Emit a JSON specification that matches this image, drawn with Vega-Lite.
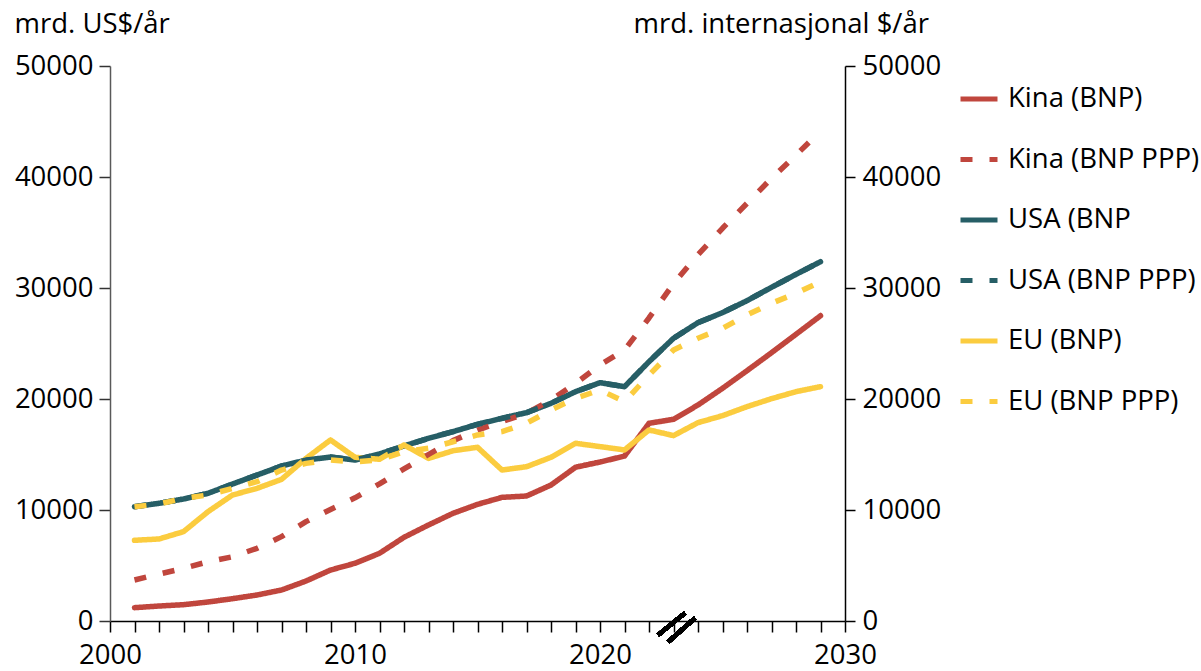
{
  "$schema": "https://vega.github.io/schema/vega-lite/v6.json",
  "width": 735,
  "height": 555,
  "autosize": {"type": "none"},
  "padding": {"left": 110, "top": 66, "right": 356, "bottom": 50},
  "background": "white",
  "config": {
    "font": "Open Sans",
    "view": {"stroke": null},
    "axis": {"labelFontSize": 27.5, "labelColor": "black", "titleColor": "black", "titleFontSize": 27.5, "titleFontWeight": "normal", "grid": false, "domainWidth": 1.5, "tickWidth": 1.5}
  },
  "data": {
    "values": [
      {"year": 2001, "Kina (BNP)": 1200, "Kina (BNP PPP)": 3690, "USA (BNP": 10300, "USA (BNP PPP)": 10300, "EU (BNP)": 7270, "EU (BNP PPP)": 10300},
      {"year": 2002, "Kina (BNP)": 1350, "Kina (BNP PPP)": 4230, "USA (BNP": 10600, "USA (BNP PPP)": 10600, "EU (BNP)": 7390, "EU (BNP PPP)": 10540},
      {"year": 2003, "Kina (BNP)": 1470, "Kina (BNP PPP)": 4740, "USA (BNP": 10990, "USA (BNP PPP)": 10990, "EU (BNP)": 8050, "EU (BNP PPP)": 11050},
      {"year": 2004, "Kina (BNP)": 1710, "Kina (BNP PPP)": 5340, "USA (BNP": 11500, "USA (BNP PPP)": 11500, "EU (BNP)": 9850, "EU (BNP PPP)": 11350},
      {"year": 2005, "Kina (BNP)": 2010, "Kina (BNP PPP)": 5790, "USA (BNP": 12340, "USA (BNP PPP)": 12340, "EU (BNP)": 11350, "EU (BNP PPP)": 11950},
      {"year": 2006, "Kina (BNP)": 2340, "Kina (BNP PPP)": 6550, "USA (BNP": 13150, "USA (BNP PPP)": 13150, "EU (BNP)": 11950, "EU (BNP PPP)": 12550},
      {"year": 2007, "Kina (BNP)": 2790, "Kina (BNP PPP)": 7600, "USA (BNP": 13960, "USA (BNP PPP)": 13960, "EU (BNP)": 12760, "EU (BNP PPP)": 13600},
      {"year": 2008, "Kina (BNP)": 3600, "Kina (BNP PPP)": 8950, "USA (BNP": 14500, "USA (BNP PPP)": 14500, "EU (BNP)": 14650, "EU (BNP PPP)": 14200},
      {"year": 2009, "Kina (BNP)": 4590, "Kina (BNP PPP)": 10050, "USA (BNP": 14770, "USA (BNP PPP)": 14770, "EU (BNP)": 16310, "EU (BNP PPP)": 14500},
      {"year": 2010, "Kina (BNP)": 5200, "Kina (BNP PPP)": 11100, "USA (BNP": 14500, "USA (BNP PPP)": 14500, "EU (BNP)": 14750, "EU (BNP PPP)": 14350},
      {"year": 2011, "Kina (BNP)": 6100, "Kina (BNP PPP)": 12350, "USA (BNP": 15050, "USA (BNP PPP)": 15050, "EU (BNP)": 14570, "EU (BNP PPP)": 14500},
      {"year": 2012, "Kina (BNP)": 7540, "Kina (BNP PPP)": 13700, "USA (BNP": 15770, "USA (BNP PPP)": 15770, "EU (BNP)": 15860, "EU (BNP PPP)": 15260},
      {"year": 2013, "Kina (BNP)": 8650, "Kina (BNP PPP)": 15000, "USA (BNP": 16460, "USA (BNP PPP)": 16460, "EU (BNP)": 14650, "EU (BNP PPP)": 15560},
      {"year": 2014, "Kina (BNP)": 9700, "Kina (BNP PPP)": 16250, "USA (BNP": 17060, "USA (BNP PPP)": 17060, "EU (BNP)": 15340, "EU (BNP PPP)": 16150},
      {"year": 2015, "Kina (BNP)": 10510, "Kina (BNP PPP)": 17200, "USA (BNP": 17720, "USA (BNP PPP)": 17720, "EU (BNP)": 15650, "EU (BNP PPP)": 16760},
      {"year": 2016, "Kina (BNP)": 11140, "Kina (BNP PPP)": 17960, "USA (BNP": 18260, "USA (BNP PPP)": 18260, "EU (BNP)": 13600, "EU (BNP PPP)": 17060},
      {"year": 2017, "Kina (BNP)": 11260, "Kina (BNP PPP)": 18710, "USA (BNP": 18770, "USA (BNP PPP)": 18770, "EU (BNP)": 13900, "EU (BNP PPP)": 17810},
      {"year": 2018, "Kina (BNP)": 12250, "Kina (BNP PPP)": 19910, "USA (BNP": 19610, "USA (BNP PPP)": 19610, "EU (BNP)": 14750, "EU (BNP PPP)": 19010},
      {"year": 2019, "Kina (BNP)": 13850, "Kina (BNP PPP)": 21400, "USA (BNP": 20660, "USA (BNP PPP)": 20660, "EU (BNP)": 16010, "EU (BNP PPP)": 20060},
      {"year": 2020, "Kina (BNP)": 14320, "Kina (BNP PPP)": 23060, "USA (BNP": 21470, "USA (BNP PPP)": 21470, "EU (BNP)": 15710, "EU (BNP PPP)": 20810},
      {"year": 2021, "Kina (BNP)": 14860, "Kina (BNP PPP)": 24410, "USA (BNP": 21110, "USA (BNP PPP)": 21110, "EU (BNP)": 15410, "EU (BNP PPP)": 19760},
      {"year": 2022, "Kina (BNP)": 17810, "Kina (BNP PPP)": 27300, "USA (BNP": 23360, "USA (BNP PPP)": 23360, "EU (BNP)": 17210, "EU (BNP PPP)": 22160},
      {"year": 2023, "Kina (BNP)": 18170, "Kina (BNP PPP)": 30400, "USA (BNP": 25470, "USA (BNP PPP)": 25470, "EU (BNP)": 16700, "EU (BNP PPP)": 24410},
      {"year": 2024, "Kina (BNP)": 19460, "Kina (BNP PPP)": 33000, "USA (BNP": 26880, "USA (BNP PPP)": 26880, "EU (BNP)": 17870, "EU (BNP PPP)": 25470},
      {"year": 2025, "Kina (BNP)": 20960, "Kina (BNP PPP)": 35380, "USA (BNP": 27780, "USA (BNP PPP)": 27780, "EU (BNP)": 18500, "EU (BNP PPP)": 26370},
      {"year": 2026, "Kina (BNP)": 22550, "Kina (BNP PPP)": 37630, "USA (BNP": 28860, "USA (BNP PPP)": 28860, "EU (BNP)": 19310, "EU (BNP PPP)": 27570},
      {"year": 2027, "Kina (BNP)": 24170, "Kina (BNP PPP)": 39880, "USA (BNP": 30060, "USA (BNP PPP)": 30060, "EU (BNP)": 20030, "EU (BNP PPP)": 28620},
      {"year": 2028, "Kina (BNP)": 25830, "Kina (BNP PPP)": 41980, "USA (BNP": 31230, "USA (BNP PPP)": 31230, "EU (BNP)": 20660, "EU (BNP PPP)": 29520},
      {"year": 2029, "Kina (BNP)": 27500, "Kina (BNP PPP)": 44140, "USA (BNP": 32370, "USA (BNP PPP)": 32370, "EU (BNP)": 21110, "EU (BNP PPP)": 30570}
    ]
  },
  "transform": [
    {"fold": ["Kina (BNP)", "USA (BNP", "EU (BNP)", "Kina (BNP PPP)", "USA (BNP PPP)", "EU (BNP PPP)"], "as": ["series", "value"]}
  ],
  "resolve": {"axis": {"x": "independent", "y": "independent"}},
  "layer": [
    {
      "transform": [{"filter": {"field": "series", "oneOf": ["Kina (BNP)", "USA (BNP", "EU (BNP)"]}}],
      "mark": {"type": "line", "strokeWidth": 5.5, "strokeCap": "round", "strokeJoin": "round"},
      "encoding": {
        "x": {"field": "year", "type": "quantitative",
          "scale": {"domain": [2000, 2030], "nice": false, "zero": false},
          "axis": {"values": [2000,2001,2002,2003,2004,2005,2006,2007,2008,2009,2010,2011,2012,2013,2014,2015,2016,2017,2018,2019,2020,2021,2022,2023,2024,2025,2026,2027,2028,2029,2030],
            "labelExpr": "datum.value % 10 == 0 ? format(datum.value, 'd') : ''",
            "tickSize": 11, "labelPadding": 9, "domainColor": "black", "tickColor": "black", "labelFlush": false, "labelOverlap": false, "title": null}},
        "y": {"field": "value", "type": "quantitative",
          "scale": {"domain": [0, 50000], "nice": false},
          "axis": {"orient": "left", "values": [0, 10000, 20000, 30000, 40000, 50000], "format": "d",
            "tickSize": 11, "labelPadding": 6, "domainColor": "#595959", "tickColor": "#333333",
            "title": "mrd. US$/år", "titleAngle": 0, "titleAlign": "left", "titleBaseline": "alphabetic", "titleX": -96, "titleY": -34}},
        "color": {"field": "series", "type": "nominal",
          "scale": {"domain": ["Kina (BNP)", "Kina (BNP PPP)", "USA (BNP", "USA (BNP PPP)", "EU (BNP)", "EU (BNP PPP)"],
                    "range": ["#C0463D", "#C0463D", "#265E66", "#265E66", "#FBCC3F", "#FBCC3F"]},
          "legend": {"orient": "none", "legendX": 848, "legendY": 12, "title": null, "symbolType": "stroke", "symbolSize": 1369, "symbolStrokeWidth": 5, "labelFontSize": 27.5, "labelColor": "black", "labelOffset": 8, "rowPadding": 25.5, "padding": 0, "labelLimit": 400}},
        "strokeDash": {"field": "series", "type": "nominal",
          "scale": {"domain": ["Kina (BNP)", "Kina (BNP PPP)", "USA (BNP", "USA (BNP PPP)", "EU (BNP)", "EU (BNP PPP)"],
                    "range": [[1, 0], [12, 17], [1, 0], [12, 17], [1, 0], [12, 17]]},
          "legend": {"orient": "none", "legendX": 848, "legendY": 12, "title": null, "symbolType": "stroke", "symbolSize": 1369, "symbolStrokeWidth": 5, "labelFontSize": 27.5, "labelColor": "black", "labelOffset": 8, "rowPadding": 25.5, "padding": 0, "labelLimit": 400}}
      }
    },
    {
      "transform": [{"filter": {"field": "series", "oneOf": ["Kina (BNP PPP)", "USA (BNP PPP)", "EU (BNP PPP)"]}}],
      "mark": {"type": "line", "strokeWidth": 5.5, "strokeCap": "butt", "strokeJoin": "round"},
      "encoding": {
        "x": {"field": "year", "type": "quantitative",
          "scale": {"domain": [2000, 2030], "nice": false, "zero": false}, "axis": null},
        "y": {"field": "value", "type": "quantitative",
          "scale": {"domain": [0, 50000], "nice": false},
          "axis": {"orient": "right", "values": [0, 10000, 20000, 30000, 40000, 50000], "format": "d",
            "tickSize": 10, "labelPadding": 7, "domainColor": "black", "tickColor": "black",
            "title": "mrd. internasjonal $/år", "titleAngle": 0, "titleAlign": "left", "titleBaseline": "alphabetic", "titleX": -212, "titleY": -34}},
        "color": {"field": "series", "type": "nominal",
          "scale": {"domain": ["Kina (BNP)", "Kina (BNP PPP)", "USA (BNP", "USA (BNP PPP)", "EU (BNP)", "EU (BNP PPP)"],
                    "range": ["#C0463D", "#C0463D", "#265E66", "#265E66", "#FBCC3F", "#FBCC3F"]},
          "legend": {"orient": "none", "legendX": 848, "legendY": 12, "title": null, "symbolType": "stroke", "symbolSize": 1369, "symbolStrokeWidth": 5, "labelFontSize": 27.5, "labelColor": "black", "labelOffset": 8, "rowPadding": 25.5, "padding": 0, "labelLimit": 400}},
        "strokeDash": {"field": "series", "type": "nominal",
          "scale": {"domain": ["Kina (BNP)", "Kina (BNP PPP)", "USA (BNP", "USA (BNP PPP)", "EU (BNP)", "EU (BNP PPP)"],
                    "range": [[1, 0], [12, 17], [1, 0], [12, 17], [1, 0], [12, 17]]},
          "legend": {"orient": "none", "legendX": 848, "legendY": 12, "title": null, "symbolType": "stroke", "symbolSize": 1369, "symbolStrokeWidth": 5, "labelFontSize": 27.5, "labelColor": "black", "labelOffset": 8, "rowPadding": 25.5, "padding": 0, "labelLimit": 400}}
      }
    },
    {
      "mark": {"type": "rule", "color": "black", "strokeWidth": 4},
      "encoding": {
        "x": {"datum": 2022.37, "type": "quantitative", "scale": {"domain": [2000, 2030], "nice": false, "zero": false}, "axis": null},
        "x2": {"datum": 2023.47},
        "y": {"datum": -1264, "type": "quantitative", "scale": {"domain": [0, 50000], "nice": false}, "axis": null},
        "y2": {"datum": 722}
      }
    },
    {
      "mark": {"type": "rule", "color": "black", "strokeWidth": 4},
      "encoding": {
        "x": {"datum": 2022.78, "type": "quantitative", "scale": {"domain": [2000, 2030], "nice": false, "zero": false}, "axis": null},
        "x2": {"datum": 2023.88},
        "y": {"datum": -1895, "type": "quantitative", "scale": {"domain": [0, 50000], "nice": false}, "axis": null},
        "y2": {"datum": 271}
      }
    }
  ]
}
